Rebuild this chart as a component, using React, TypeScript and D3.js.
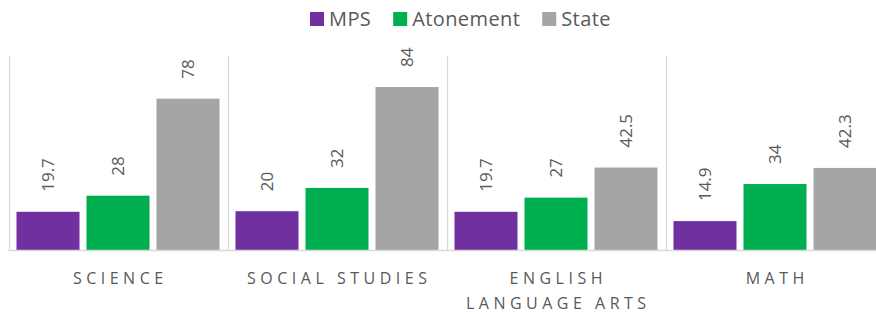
import { useEffect, useRef } from "react";
import * as d3 from "d3";

const categories = ["SCIENCE", "SOCIAL STUDIES", "ENGLISH|LANGUAGE ARTS", "MATH"];
const seriesNames = ["MPS", "Atonement", "State"];
const mpsValues = [19.7, 20, 19.7, 14.9];
const atonementValues = [28, 32, 27, 34];
const stateValues = [78, 84, 42.5, 42.3];
const seriesColors = ["#7030a0", "#00b050", "#a5a5a5"];

const W = 876;
const H = 314;
const FONT = "'Open Sans', 'Noto Sans', sans-serif";

export default function App() {
  const ref = useRef<SVGSVGElement | null>(null);

  useEffect(() => {
    const svg = d3.select(ref.current);
    svg.selectAll("*").remove();

    const values = [mpsValues, atonementValues, stateValues];
    const x = d3.scaleBand<string>().domain(categories).range([8.5, 884.5]).padding(0);
    const xInner = d3
      .scaleBand<string>()
      .domain(seriesNames)
      .range([8, 211])
      .paddingInner(0.1)
      .paddingOuter(0);
    const y = d3.scaleLinear().domain([0, 100]).range([250, 56]);

    // group separators
    svg
      .append("g")
      .selectAll("line")
      .data(categories)
      .join("line")
      .attr("x1", (d) => Math.round(x(d)!) + 0.5)
      .attr("x2", (d) => Math.round(x(d)!) + 0.5)
      .attr("y1", y(100))
      .attr("y2", y(0))
      .attr("stroke", "#d9d9d9")
      .attr("stroke-width", 1.25);

    // bars
    const groups = svg
      .append("g")
      .selectAll("g")
      .data(categories)
      .join("g")
      .attr("transform", (d) => `translate(${x(d)},0)`);

    seriesNames.forEach((s, si) => {
      groups
        .append("rect")
        .attr("x", xInner(s)!)
        .attr("width", xInner.bandwidth())
        .attr("y", (_, ci) => y(values[si][ci]))
        .attr("height", (_, ci) => y(0) - y(values[si][ci]))
        .attr("fill", seriesColors[si]);

      groups
        .append("text")
        .attr("transform", (_, ci) => {
          const cx = xInner(s)! + xInner.bandwidth() / 2;
          const cy = y(values[si][ci]) - 20;
          return `translate(${cx},${cy}) rotate(-90)`;
        })
        .attr("dy", "0.35em")
        .attr("text-anchor", "start")
        .attr("font-family", FONT)
        .attr("font-size", 17)
        .attr("fill", "#595959")
        .text((_, ci) => String(values[si][ci]));
    });

    // baseline
    svg
      .append("line")
      .attr("x1", x.range()[0])
      .attr("x2", x.range()[1])
      .attr("y1", y(0) + 0.5)
      .attr("y2", y(0) + 0.5)
      .attr("stroke", "#d9d9d9")
      .attr("stroke-width", 1.5);

    // category labels
    const spacing = 4.5;
    svg
      .append("g")
      .selectAll("text")
      .data(categories)
      .join("text")
      .attr("x", (d) => x(d)! + x.bandwidth() / 2 + spacing / 2)
      .attr("y", 284)
      .attr("text-anchor", "middle")
      .attr("font-family", FONT)
      .attr("font-size", 16)
      .attr("letter-spacing", spacing)
      .attr("fill", "#595959")
      .each(function (d) {
        const t = d3.select(this);
        const cx = t.attr("x");
        d.split("|").forEach((line, i) => {
          t.append("tspan").attr("x", cx).attr("dy", i === 0 ? 0 : 25).text(line);
        });
      });

    // legend
    const legend = svg.append("g");
    let lx = 310;
    seriesNames.forEach((s, si) => {
      legend
        .append("rect")
        .attr("x", lx)
        .attr("y", 12)
        .attr("width", 14)
        .attr("height", 14)
        .attr("fill", seriesColors[si]);
      const t = legend
        .append("text")
        .attr("x", lx + 19)
        .attr("y", 26)
        .attr("font-family", FONT)
        .attr("font-size", 20)
        .attr("letter-spacing", 0.4)
        .attr("fill", "#595959")
        .text(s);
      const w = (t.node() as SVGTextElement).getComputedTextLength();
      lx += 19 + w + 22;
    });
  }, []);

  return (
    <svg
      ref={ref}
      width={W}
      height={H}
      style={{ position: "absolute", left: 0, top: 0, background: "#fff" }}
    />
  );
}
